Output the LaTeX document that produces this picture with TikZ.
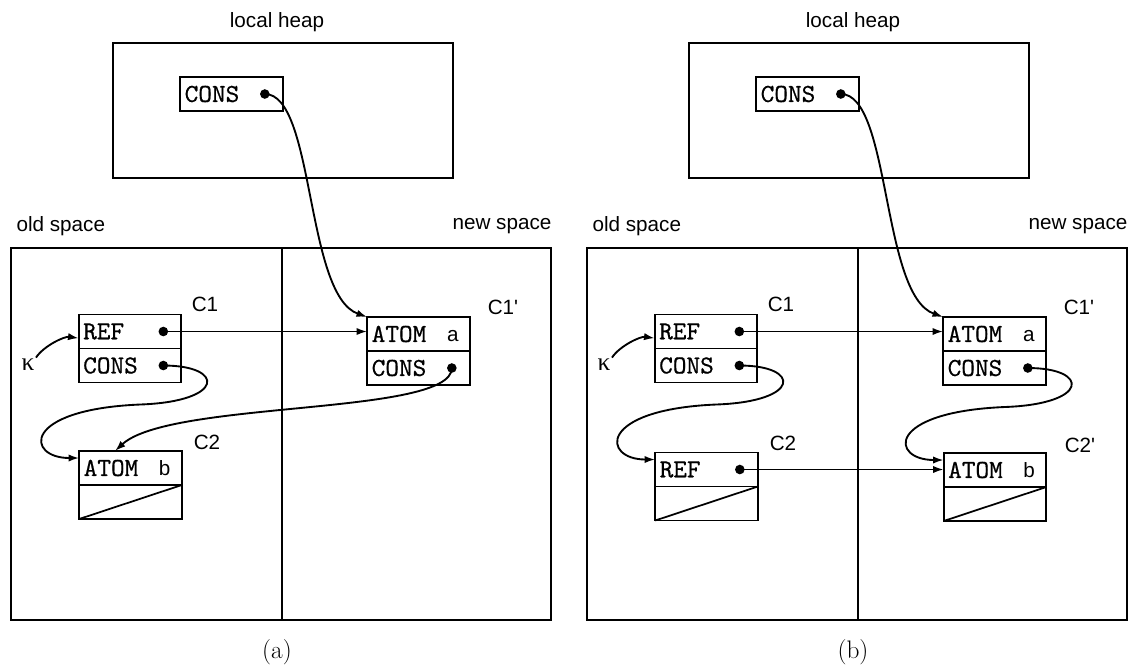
\documentclass[tikz,border=0pt]{standalone}
\usepackage{fontspec}
\usepackage{tikz}
\usetikzlibrary{positioning,arrows.meta}
\newfontfamily\labelfont{Liberation Sans}
\newfontfamily\cellmono{lmmono10-regular}[Extension=.otf, FakeBold=0.6]
\newfontfamily\greekfont{Liberation Serif}

\tikzset{
  cell/.style={draw, line width=1.3pt, outer sep=0pt, inner xsep=3.4pt, inner ysep=0pt,
    minimum width=77pt, minimum height=25.5pt, text width=70.2pt, align=left,
    font=\fontsize{19.5}{22}\selectfont\cellmono},
  tag/.style={inner sep=1pt, font=\fontsize{15.5}{18}\selectfont\labelfont},
  area/.style={draw, line width=1.5pt},
  ptr/.style={->, line width=1.4pt},
}

\begin{document}
\begin{tikzpicture}[x=0.75pt, y=-0.75pt, >={Latex[length=8pt,width=5.5pt]}]
  \useasboundingbox (0,0) rectangle (1136,669);

  % what both panels have: heap, the two spaces, C1 and C1'
  \foreach \p/\dx in {a/0, b/576} {
    \begin{scope}[shift={(\dx,0)}]
      \node[tag] at (277,22) {local heap};
      \draw[area] (113,43) rectangle (453,178);
      \node[tag, anchor=west] at (15,226) {old space};
      \node[tag, anchor=east] at (553,226) {new space};
      \draw[area] (11,248) rectangle (551,620);
      \draw[line width=1.2pt] (282,248) -- (282,620);
      \node at (277,652) {\fontsize{19}{22}\selectfont(\p)};

      \node[cell] (\p-lh) at (231.5,94) {CONS};
      \node[cell] (\p-c1ref) at (130,331.5) {REF};
      \node[cell, below=0pt of \p-c1ref] (\p-c1cons) {CONS};
      \node[tag] at (205,304) {C1};
      \node[cell] (\p-c1atom) at (418.5,334) {ATOM};
      \node[cell, below=0pt of \p-c1atom] (\p-c1pcons) {CONS};
      \node[tag, anchor=base] at ([xshift=-12.75pt]\p-c1atom.base east) {a};
      \node[tag] at (503,307) {C1'};
      \node[inner sep=1pt, font=\fontsize{19}{21}\selectfont\greekfont] (\p-kappa) at (28,365) {κ};

      \coordinate (\p-lhdot)   at ([xshift=-13.5pt]\p-lh.east);
      \coordinate (\p-refdot)  at ([xshift=-13.5pt]\p-c1ref.east);
      \coordinate (\p-consdot) at ([xshift=-13.5pt]\p-c1cons.east);
      \coordinate (\p-c1pdot)  at ([xshift=-13.5pt]\p-c1pcons.east);
      \foreach \d in {lhdot, refdot, consdot, c1pdot} \fill (\p-\d) circle (3.6pt);

      \draw[ptr] (\p-kappa.north east) .. controls +(8,-12) and +(-14,-2) .. ([yshift=-5pt]\p-c1ref.west);
      \draw[ptr] (\p-lhdot) .. controls +(50,0) and +(-62,-22) .. (\p-c1atom.north west);
      \draw[ptr] (\p-refdot) -- (\p-refdot -| \p-c1atom.west);
    \end{scope}
  }

  % (a): C2 still in old space
  \node[cell] (a-c2atom) at (130.5,468) {ATOM};
  \node[cell, below=0pt of a-c2atom] (a-c2nil) {};
  \draw[line width=1.3pt] (a-c2nil.south west) -- (a-c2nil.north east);
  \node[tag, anchor=base] at ([xshift=-13pt]a-c2atom.base east) {b};
  \node[tag] at (207,442) {C2};
  \draw[ptr] (a-consdot) .. controls +(62,0) and +(85,-3) .. ++(-23,39)
    .. controls +(-120,5) and +(-53,0) .. ([yshift=7.5pt]a-c2atom.west);
  \draw[ptr] (a-c1pdot) .. controls +(0,48) and +(55,-51) .. ([xshift=-11.6pt]a-c2atom.north);

  % (b): C2 forwarded to C2'
  \begin{scope}[shift={(576,0)}]
    \node[cell] (b-c2ref) at (130.5,469.5) {REF};
    \node[cell, below=0pt of b-c2ref] (b-c2nil) {};
    \draw[line width=1.3pt] (b-c2nil.south west) -- (b-c2nil.north east);
    \node[tag] at (207,443) {C2};
    \node[cell] (b-c2atom) at (419,470) {ATOM};
    \node[cell, below=0pt of b-c2atom] (b-c2pnil) {};
    \draw[line width=1.3pt] (b-c2pnil.south west) -- (b-c2pnil.north east);
    \node[tag, anchor=base] at ([xshift=-13pt]b-c2atom.base east) {b};
    \node[tag] at (504,445) {C2'};

    \coordinate (b-c2dot) at ([xshift=-13.5pt]b-c2ref.east);
    \fill (b-c2dot) circle (3.6pt);

    \draw[ptr] (b-consdot) .. controls +(62,0) and +(85,-3) .. ++(-23,39)
      .. controls +(-120,5) and +(-53,0) .. ([yshift=7.5pt]b-c2ref.west);
    \draw[ptr] (b-c2dot) -- (b-c2dot -| b-c2atom.west);
    \draw[ptr] (b-c1pdot) .. controls +(62,0) and +(85,-3) .. ++(-23,39)
      .. controls +(-120,5) and +(-53,0) .. ([yshift=7.5pt]b-c2atom.west);
  \end{scope}
\end{tikzpicture}
\end{document}
